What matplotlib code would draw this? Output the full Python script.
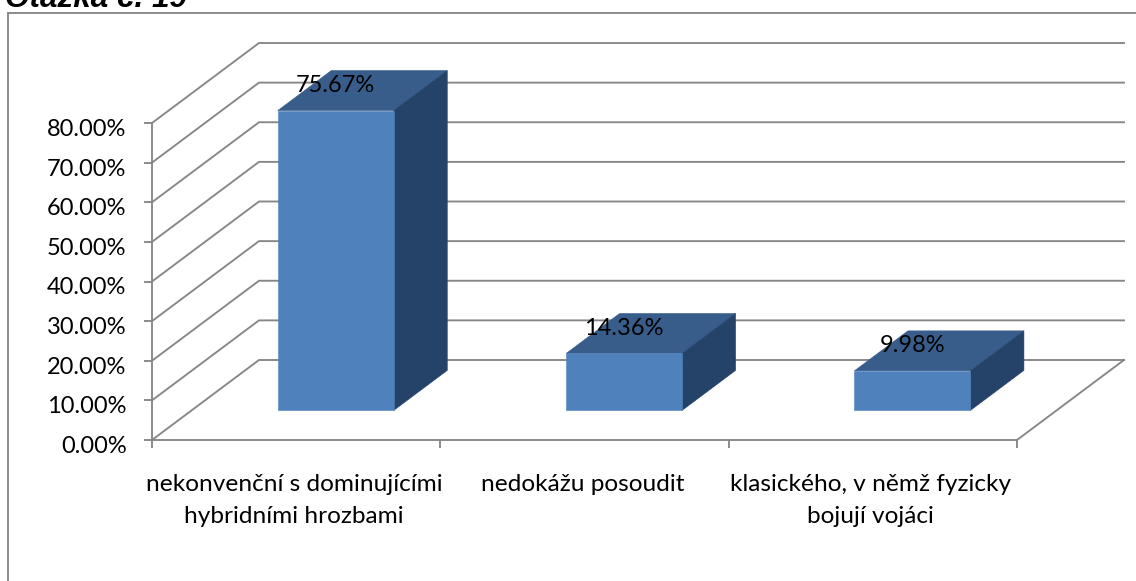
import matplotlib
matplotlib.use("Agg")
import matplotlib.pyplot as plt
from matplotlib.lines import Line2D
from matplotlib.patches import Polygon
from matplotlib.transforms import ScaledTranslation

categories = ["nekonvenční s dominujícími\nhybridními hrozbami",
              "nedokážu posoudit",
              "klasického, v němž fyzicky\nbojují vojáci"]
values = [75.67, 14.36, 9.98]
value_labels = ["75.67%", "14.36%", "9.98%"]
y_ticks = [0, 10, 20, 30, 40, 50, 60, 70, 80]
title = "Otázka č. 19"

W, H = 1136, 581
GRAY = "#868686"
FRONT, TOP, SIDE = "#4F81BD", "#385D8A", "#254268"
FONT = "Lato"
FS = 17
FS_CAT = 17.6
LW = 1.35

fig = plt.figure(figsize=(W / 100, H / 100), dpi=100)
L, R, T, B = 152, 1017, 123, 440
ax = fig.add_axes([L / W, 1 - B / H, (R - L) / W, (B - T) / H])
ax.set_xlim(0, 3)
ax.set_ylim(0, 80)
ax.patch.set_visible(False)

# one unit of depth, in data units of the front plane
DX = 107 / (R - L) * 3
DY = 80 / (B - T) * 80
D0, D1 = 0.37, 0.87      # depth range of the bars
BAR_W = 116 / (R - L) * 3


def proj(x, y, d):
    return (x + d * DX, y + d * DY)


line_kw = dict(color=GRAY, lw=LW, clip_on=False, zorder=1, solid_joinstyle="miter")
for v in y_ticks:
    pts = [proj(0, v, 0), proj(0, v, 1), proj(3, v, 1)]
    ax.plot(*zip(*pts), **line_kw)
ax.plot(*zip(proj(3, 0, 0), proj(3, 0, 1)), **line_kw)

for i, v in enumerate(values):
    cx = i + 0.5
    x0, x1 = cx - BAR_W / 2, cx + BAR_W / 2
    poly = lambda pts, c: ax.add_patch(Polygon(pts, closed=True, fc=c, ec=c, lw=0.4,
                                               clip_on=False, zorder=3))
    poly([proj(x0, v, D0), proj(x1, v, D0), proj(x1, v, D1), proj(x0, v, D1)], TOP)
    poly([proj(x1, 0, D0), proj(x1, v, D0), proj(x1, v, D1), proj(x1, 0, D1)], SIDE)
    poly([proj(x0, 0, D0), proj(x1, 0, D0), proj(x1, v, D0), proj(x0, v, D0)], FRONT)
    fx, fy = proj(cx, v, D0)
    ax.annotate(value_labels[i], (fx, fy), xytext=(0, 18.2), textcoords="offset points",
                ha="center", va="center", fontsize=FS, family=FONT, color="black",
                zorder=5, annotation_clip=False)

for s in ("top", "right"):
    ax.spines[s].set_visible(False)
for s in ("left", "bottom"):
    ax.spines[s].set_color(GRAY)
    ax.spines[s].set_linewidth(LW)
    ax.spines[s].set_zorder(2)

ax.set_yticks(y_ticks)
ax.set_yticklabels([f"{v:.2f}%" for v in y_ticks], family=FONT, fontsize=FS)
ax.tick_params(axis="y", length=5.8, width=LW, color=GRAY, pad=12.5)
shift = ScaledTranslation(0, -4.5 / 100, fig.dpi_scale_trans)
for lab in ax.get_yticklabels():
    lab.set_transform(lab.get_transform() + shift)

ax.set_xticks([0, 1, 2, 3])
ax.set_xticklabels([])
ax.tick_params(axis="x", which="major", length=5.8, width=LW, color=GRAY)
ax.set_xticks([0.5, 1.5, 2.5], minor=True)
ax.set_xticklabels(categories, minor=True, family=FONT, fontsize=FS_CAT, linespacing=1.64)
ax.tick_params(axis="x", which="minor", length=0, pad=24.5)
shift_x = ScaledTranslation(-2 / 100, 0, fig.dpi_scale_trans)
for lab in ax.get_xticklabels(minor=True):
    lab.set_transform(lab.get_transform() + shift_x)

# chart frame and the heading above it
fig.add_artist(Line2D([8 / W, 8 / W, 1], [0, 1 - 13 / H, 1 - 13 / H], color=GRAY, lw=LW,
                      solid_joinstyle="miter"))
fig.text(5 / W, 1 - 7 / H, title, family="Liberation Sans", fontweight="bold",
         fontstyle="italic", fontsize=22.7, ha="left", va="baseline", color="black")

fig.savefig("out.png", dpi=100)
